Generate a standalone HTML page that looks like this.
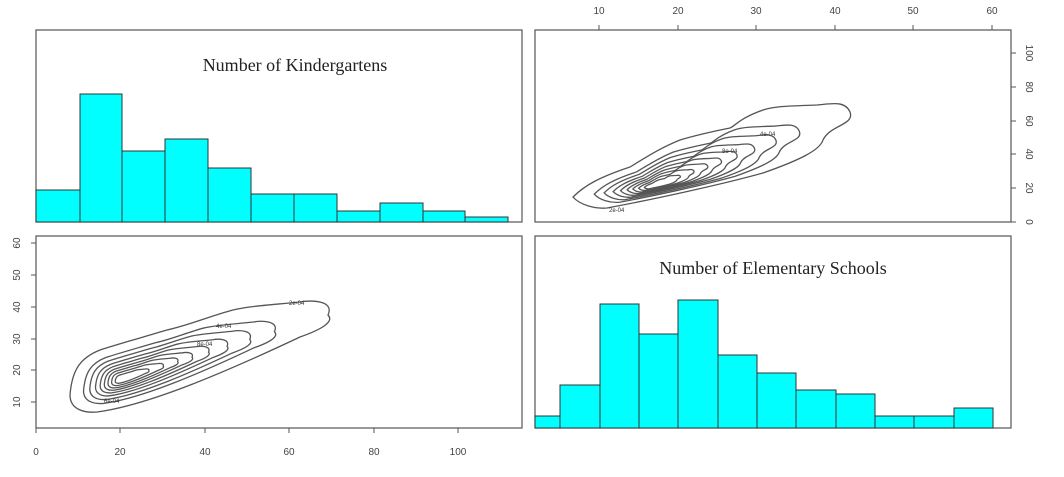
<!DOCTYPE html>
<html><head><meta charset="utf-8"><style>
html,body{margin:0;padding:0;background:#fff;}
svg{display:block;font-family:"Liberation Sans",sans-serif;}
use{vector-effect:non-scaling-stroke;}
</style></head><body>
<svg width="1064" height="477" viewBox="0 0 1064 477">
<defs>
<path id="o2" vector-effect="non-scaling-stroke" d="M573,197 C580,205 595,209 607,208 C650,200 720,185 763,173 C800,160 820,150 823,140 C830,125 855,125 850,112 C845,100 830,104 817,105 C790,106 775,106 763,110 C740,118 735,126 730,128 C705,133 690,137 680,140 C660,148 645,158 630,167 C600,177 585,185 573,197 Z"/>
<path id="o3" vector-effect="non-scaling-stroke" d="M70,395 C70,410 85,413 97,412 C150,405 230,370 300,337 C320,330 335,322 328,315 C335,300 310,300 300,302 C270,305 250,306 233,310 C210,316 190,325 167,330 C140,338 115,345 100,350 C80,358 72,370 70,395 Z"/>
</defs>
<g fill="none" stroke="#555" stroke-width="1.2">
<rect x="36" y="30" width="486" height="192"/>
<rect x="535" y="30" width="476" height="192"/>
<rect x="36" y="236" width="486" height="192"/>
<rect x="535" y="236" width="476" height="192"/>
</g>
<g fill="#00ffff" stroke="#333" stroke-width="1">
<rect x="36" y="190" width="44" height="32"/>
<rect x="80" y="94" width="42" height="128"/>
<rect x="122" y="151" width="43" height="71"/>
<rect x="165" y="139" width="43" height="83"/>
<rect x="208" y="168" width="43" height="54"/>
<rect x="251" y="194" width="43" height="28"/>
<rect x="294" y="194" width="43" height="28"/>
<rect x="337" y="211" width="43" height="11"/>
<rect x="380" y="203" width="43" height="19"/>
<rect x="423" y="211" width="42" height="11"/>
<rect x="465" y="217" width="43" height="5"/>
</g>
<text x="295" y="71" text-anchor="middle" font-family="Liberation Serif,serif" font-size="18" fill="#222">Number of Kindergartens</text>
<g fill="#00ffff" stroke="#333" stroke-width="1">
<rect x="535" y="416" width="25" height="12"/>
<rect x="560" y="385" width="40" height="43"/>
<rect x="600" y="304" width="39" height="124"/>
<rect x="639" y="334" width="39" height="94"/>
<rect x="678" y="300" width="40" height="128"/>
<rect x="718" y="355" width="39" height="73"/>
<rect x="757" y="373" width="39" height="55"/>
<rect x="796" y="390" width="40" height="38"/>
<rect x="836" y="394" width="39" height="34"/>
<rect x="875" y="416" width="39" height="12"/>
<rect x="914" y="416" width="40" height="12"/>
<rect x="954" y="408" width="39" height="20"/>
</g>
<text x="773" y="274" text-anchor="middle" font-family="Liberation Serif,serif" font-size="18" fill="#222">Number of Elementary Schools</text>
<g fill="none" stroke="#555" stroke-width="1.3">
<use href="#o2"/>
<use href="#o2" transform="translate(655,186) scale(0.74) translate(-655,-186)"/>
<use href="#o2" transform="translate(655,186) scale(0.62) translate(-655,-186)"/>
<use href="#o2" transform="translate(655,186) scale(0.51) translate(-655,-186)"/>
<use href="#o2" transform="translate(655,186) scale(0.42) translate(-655,-186)"/>
<use href="#o2" transform="translate(655,186) scale(0.34) translate(-655,-186)"/>
<use href="#o2" transform="translate(655,186) scale(0.27) translate(-655,-186)"/>
<use href="#o2" transform="translate(655,186) scale(0.20) translate(-655,-186)"/>
<use href="#o2" transform="translate(655,186) scale(0.13) translate(-655,-186)"/>
</g>
<g font-size="6" fill="#333"><text x="609" y="212">2e-04</text><text x="760" y="136">4e-04</text><text x="722" y="153">8e-04</text></g>
<g fill="none" stroke="#555" stroke-width="1.3">
<use href="#o3"/>
<use href="#o3" transform="translate(122,379) scale(0.74) translate(-122,-379)"/>
<use href="#o3" transform="translate(122,379) scale(0.62) translate(-122,-379)"/>
<use href="#o3" transform="translate(122,379) scale(0.51) translate(-122,-379)"/>
<use href="#o3" transform="translate(122,379) scale(0.42) translate(-122,-379)"/>
<use href="#o3" transform="translate(122,379) scale(0.34) translate(-122,-379)"/>
<use href="#o3" transform="translate(122,379) scale(0.27) translate(-122,-379)"/>
<use href="#o3" transform="translate(122,379) scale(0.20) translate(-122,-379)"/>
<use href="#o3" transform="translate(122,379) scale(0.13) translate(-122,-379)"/>
</g>
<g font-size="6" fill="#333"><text x="289" y="305">2e-04</text><text x="216" y="328">4e-04</text><text x="197" y="346">8e-04</text><text x="104" y="403">6e-04</text></g>
<g stroke="#555" stroke-width="1">
<path d="M599,30V25M678,30V25M756,30V25M835,30V25M913,30V25M992,30V25"/>
<path d="M1011,222H1016M1011,188H1016M1011,154H1016M1011,121H1016M1011,87H1016M1011,53H1016"/>
<path d="M36,428V433M120,428V433M205,428V433M289,428V433M374,428V433M458,428V433"/>
<path d="M36,402H31M36,370H31M36,339H31M36,307H31M36,275H31M36,243H31"/>
</g>
<g font-size="10" fill="#444" text-anchor="middle">
<text x="599" y="14">10</text><text x="678" y="14">20</text><text x="756" y="14">30</text><text x="835" y="14">40</text><text x="913" y="14">50</text><text x="992" y="14">60</text>
<text x="36" y="455">0</text><text x="120" y="455">20</text><text x="205" y="455">40</text><text x="289" y="455">60</text><text x="374" y="455">80</text><text x="458" y="455">100</text>
<text transform="translate(1026,222) rotate(90)">0</text>
<text transform="translate(1026,188) rotate(90)">20</text>
<text transform="translate(1026,154) rotate(90)">40</text>
<text transform="translate(1026,121) rotate(90)">60</text>
<text transform="translate(1026,87) rotate(90)">80</text>
<text transform="translate(1026,53) rotate(90)">100</text>
<text transform="translate(20,402) rotate(-90)">10</text>
<text transform="translate(20,370) rotate(-90)">20</text>
<text transform="translate(20,339) rotate(-90)">30</text>
<text transform="translate(20,307) rotate(-90)">40</text>
<text transform="translate(20,275) rotate(-90)">50</text>
<text transform="translate(20,243) rotate(-90)">60</text>
</g>
</svg>
</body></html>
